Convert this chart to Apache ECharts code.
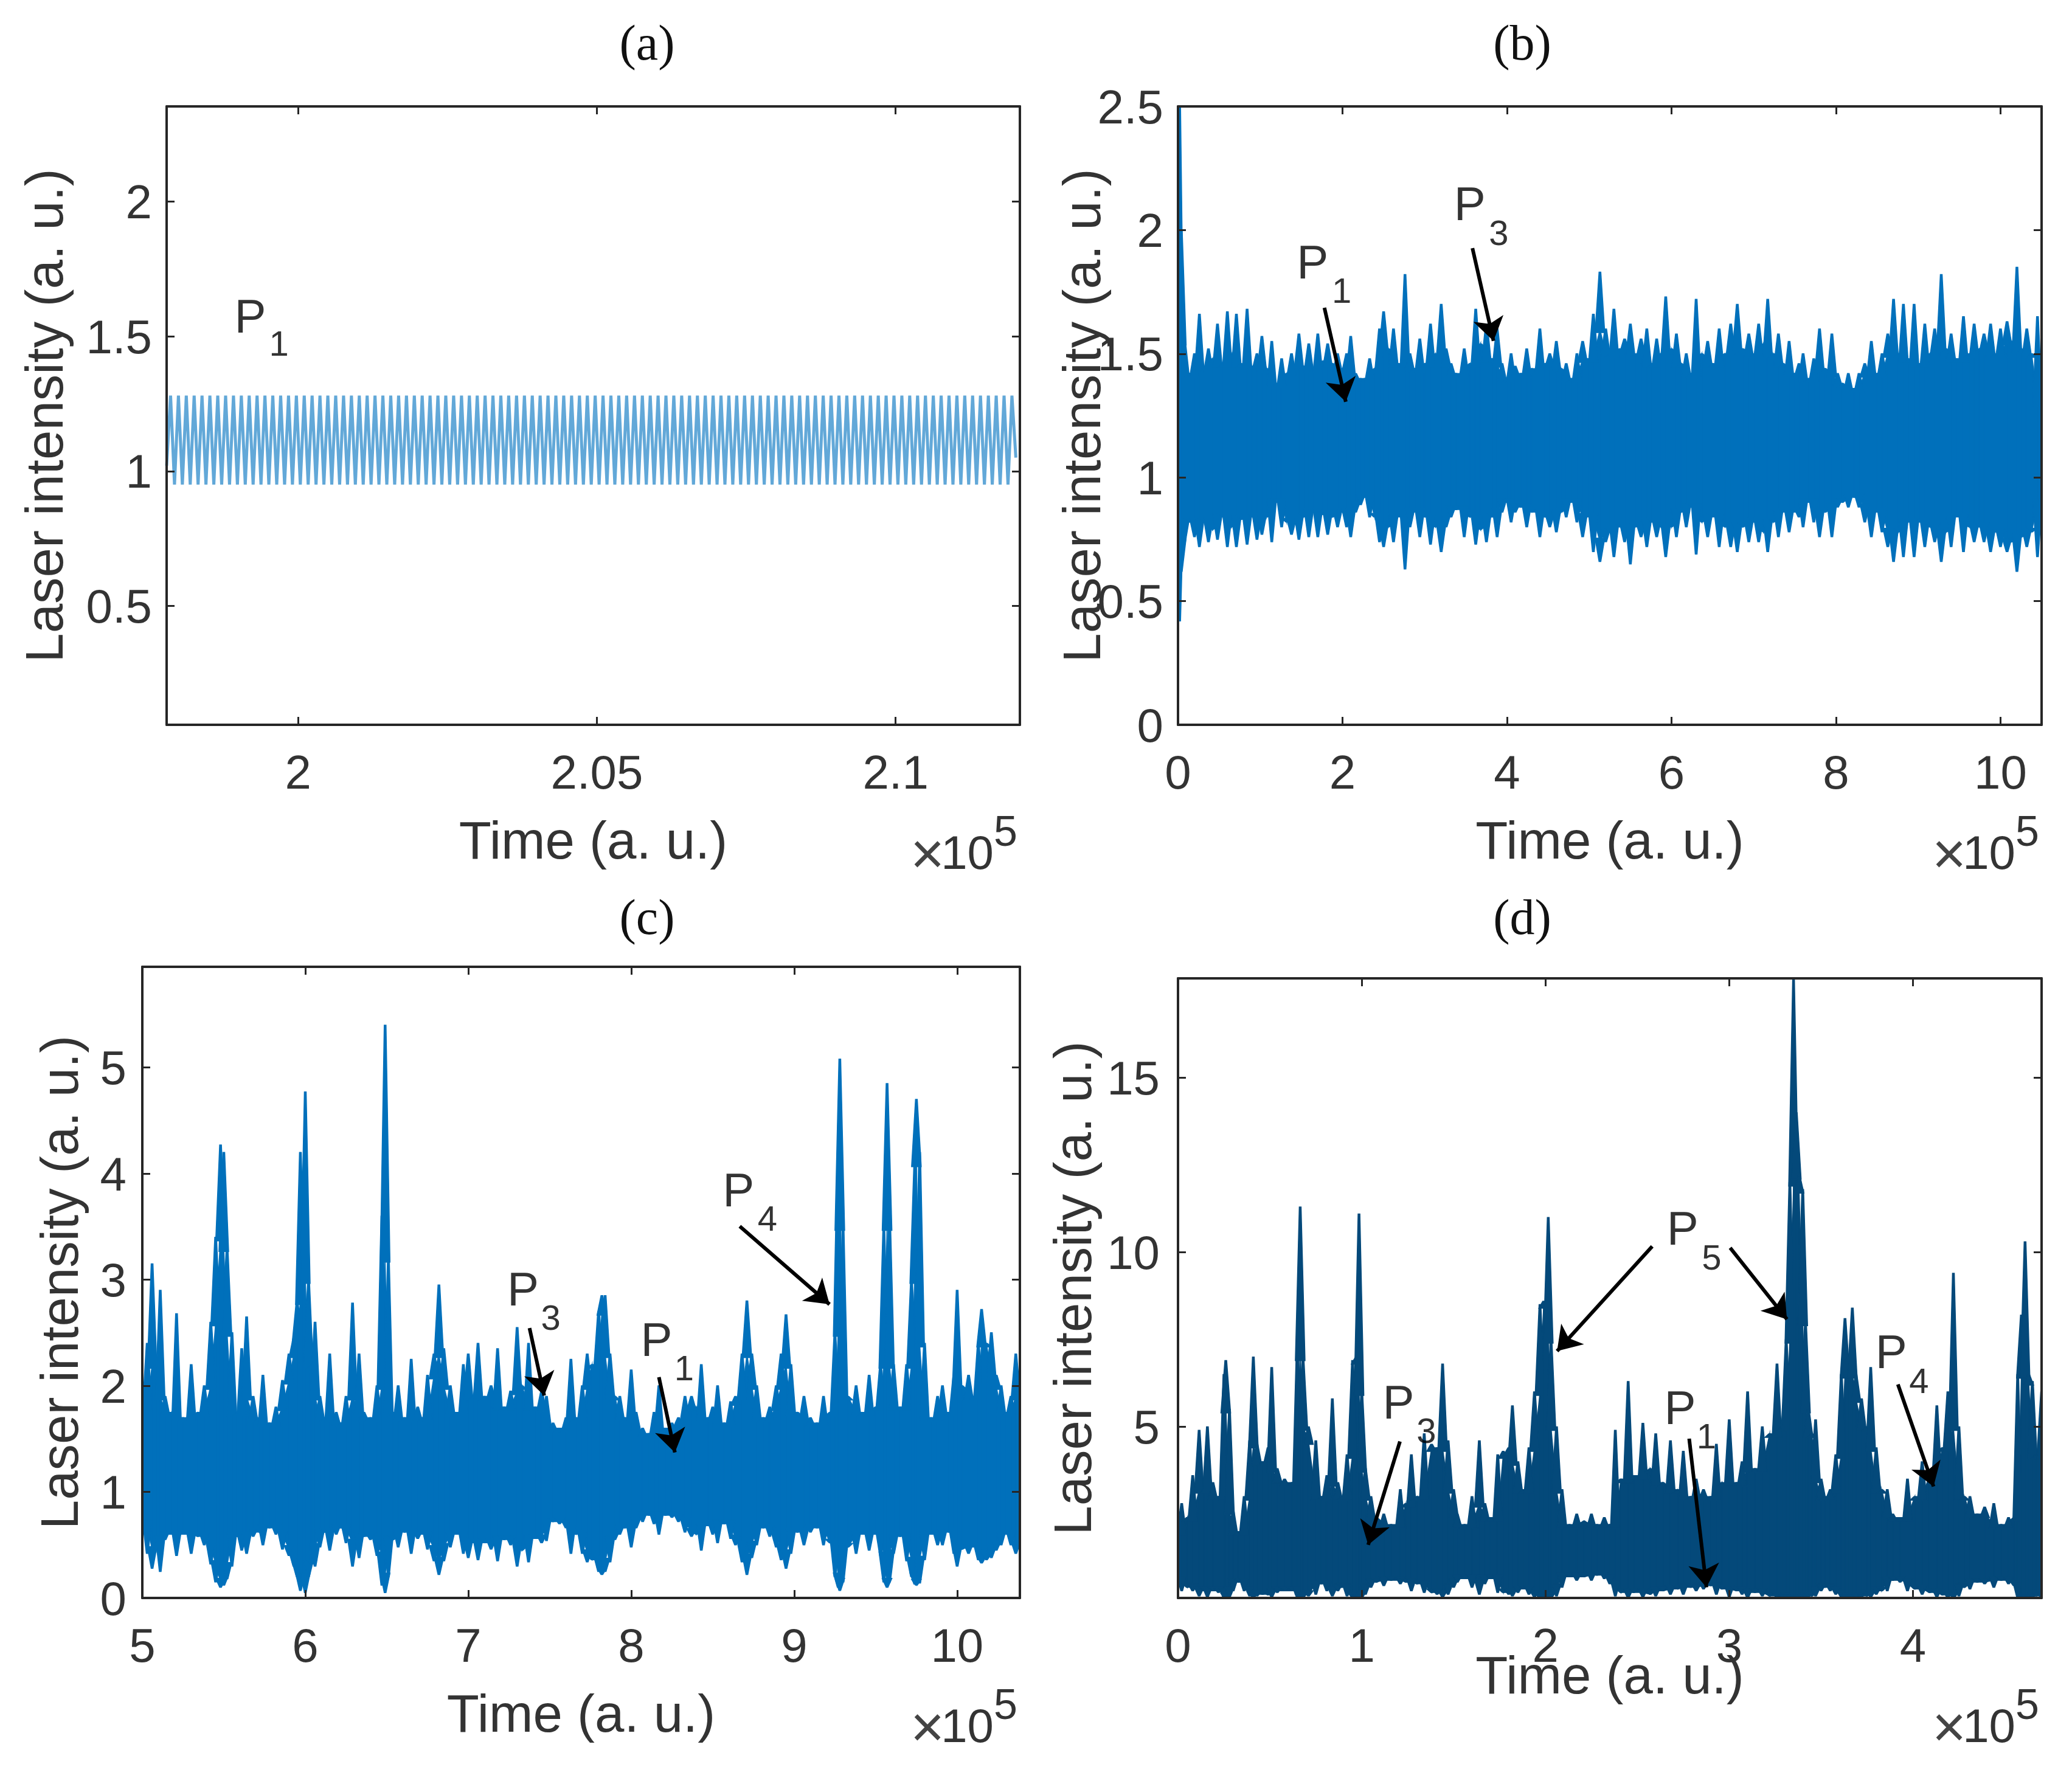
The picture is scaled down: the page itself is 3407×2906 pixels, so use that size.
<!DOCTYPE html>
<html><head><meta charset="utf-8">
<script src="https://cdn.jsdelivr.net/npm/echarts@6/dist/echarts.min.js"></script>
<style>html,body{margin:0;padding:0;background:#fff}#c{width:3407px;height:2906px}</style>
</head><body><div id="c"></div>
<script>
// Panel (a): one regular oscillation, alternating crest / trough
const startA = 1.978, stepA = 0.000658;
const valA = [
1.02,1.28,0.95,1.28,0.95,1.28,0.95,1.28,0.95,1.28,0.95,1.28,0.95,1.28,0.95,1.28,0.95,1.28,0.95,1.28,
0.95,1.28,0.95,1.28,0.95,1.28,0.95,1.28,0.95,1.28,0.95,1.28,0.95,1.28,0.95,1.28,0.95,1.28,0.95,1.28,
0.95,1.28,0.95,1.28,0.95,1.28,0.95,1.28,0.95,1.28,0.95,1.28,0.95,1.28,0.95,1.28,0.95,1.28,0.95,1.28,
0.95,1.28,0.95,1.28,0.95,1.28,0.95,1.28,0.95,1.28,0.95,1.28,0.95,1.28,0.95,1.28,0.95,1.28,0.95,1.28,
0.95,1.28,0.95,1.28,0.95,1.28,0.95,1.28,0.95,1.28,0.95,1.28,0.95,1.28,0.95,1.28,0.95,1.28,0.95,1.28,
0.95,1.28,0.95,1.28,0.95,1.28,0.95,1.28,0.95,1.28,0.95,1.28,0.95,1.28,0.95,1.28,0.95,1.28,0.95,1.28,
0.95,1.28,0.95,1.28,0.95,1.28,0.95,1.28,0.95,1.28,0.95,1.28,0.95,1.28,0.95,1.28,0.95,1.28,0.95,1.28,
0.95,1.28,0.95,1.28,0.95,1.28,0.95,1.28,0.95,1.28,0.95,1.28,0.95,1.28,0.95,1.28,0.95,1.28,0.95,1.28,
0.95,1.28,0.95,1.28,0.95,1.28,0.95,1.28,0.95,1.28,0.95,1.28,0.95,1.28,0.95,1.28,0.95,1.28,0.95,1.28,
0.95,1.28,0.95,1.28,0.95,1.28,0.95,1.28,0.95,1.28,0.95,1.28,0.95,1.28,0.95,1.28,0.95,1.28,0.95,1.28,
0.95,1.28,0.95,1.28,0.95,1.28,0.95,1.28,0.95,1.28,0.95,1.28,0.95,1.28,0.95,1.28,1.05];

// Panel (b): time and upper / lower envelope of the trace
const timeB = [
0,0.02,0.04,0.08,0.14,0.2,0.26,0.31,0.37,0.42,
0.48,0.54,0.6,0.65,0.71,0.77,0.84,0.9,0.96,1.02,
1.08,1.14,1.2,1.26,1.32,1.38,1.47,1.53,1.59,1.65,
1.7,1.76,1.82,1.88,1.94,2.0,2.05,2.1,2.16,2.22,
2.27,2.33,2.39,2.45,2.5,2.56,2.62,2.68,2.76,2.82,
2.88,2.94,3.0,3.07,3.13,3.2,3.26,3.32,3.38,3.48,
3.55,3.62,3.68,3.75,3.82,3.88,3.94,4.0,4.05,4.1,
4.17,4.24,4.3,4.4,4.46,4.52,4.6,4.66,4.72,4.78,
4.85,4.92,4.98,5.05,5.13,5.2,5.25,5.3,5.37,5.43,
5.5,5.56,5.63,5.7,5.76,5.82,5.87,5.93,6.0,6.06,
6.12,6.18,6.24,6.3,6.37,6.44,6.5,6.58,6.65,6.72,
6.8,6.87,6.94,7.0,7.06,7.12,7.17,7.24,7.3,7.36,
7.43,7.5,7.55,7.6,7.67,7.73,7.8,7.87,7.95,8.02,
8.08,8.15,8.22,8.28,8.35,8.43,8.5,8.56,8.63,8.7,
8.76,8.82,8.88,8.95,9.02,9.08,9.14,9.2,9.28,9.34,
9.4,9.47,9.55,9.62,9.68,9.74,9.8,9.88,9.94,10.0,
10.08,10.14,10.2,10.26,10.32,10.38,10.45,10.5];
const highB = [
1.2,2.5,2.0,1.55,1.42,1.5,1.66,1.44,1.52,1.48,
1.62,1.46,1.67,1.5,1.66,1.46,1.68,1.45,1.5,1.57,
1.44,1.55,1.38,1.48,1.42,1.5,1.58,1.45,1.54,1.44,
1.58,1.47,1.54,1.46,1.5,1.44,1.5,1.57,1.42,1.4,
1.4,1.48,1.44,1.6,1.67,1.52,1.6,1.46,1.82,1.5,
1.44,1.56,1.46,1.62,1.5,1.7,1.52,1.46,1.42,1.52,
1.46,1.68,1.54,1.62,1.48,1.6,1.46,1.4,1.5,1.45,
1.42,1.52,1.44,1.6,1.46,1.5,1.55,1.44,1.46,1.4,
1.5,1.55,1.48,1.66,1.83,1.6,1.5,1.68,1.52,1.56,
1.62,1.5,1.56,1.6,1.46,1.56,1.5,1.73,1.52,1.58,
1.46,1.5,1.42,1.72,1.5,1.55,1.46,1.6,1.5,1.62,
1.7,1.52,1.58,1.5,1.62,1.54,1.72,1.5,1.58,1.46,
1.55,1.42,1.46,1.5,1.4,1.48,1.6,1.44,1.58,1.42,
1.38,1.42,1.36,1.42,1.46,1.55,1.42,1.5,1.58,1.72,
1.5,1.7,1.48,1.7,1.46,1.62,1.5,1.6,1.82,1.52,
1.58,1.48,1.65,1.5,1.62,1.52,1.58,1.62,1.5,1.6,
1.63,1.55,1.85,1.52,1.6,1.5,1.65,1.3];
const lowB = [
1.0,0.42,0.62,0.74,0.82,0.76,0.72,0.82,0.74,0.79,
0.75,0.84,0.72,0.8,0.72,0.83,0.73,0.84,0.75,0.77,
0.84,0.74,0.9,0.8,0.82,0.77,0.75,0.84,0.76,0.86,
0.76,0.85,0.77,0.84,0.8,0.86,0.8,0.76,0.86,0.89,
0.92,0.84,0.84,0.74,0.72,0.8,0.74,0.84,0.63,0.8,
0.86,0.76,0.84,0.73,0.8,0.7,0.8,0.84,0.87,0.76,
0.84,0.73,0.79,0.74,0.84,0.76,0.86,0.9,0.82,0.86,
0.88,0.8,0.86,0.76,0.84,0.8,0.78,0.86,0.84,0.9,
0.82,0.76,0.84,0.7,0.66,0.74,0.78,0.68,0.8,0.74,
0.65,0.8,0.76,0.72,0.82,0.76,0.8,0.68,0.8,0.76,
0.86,0.8,0.88,0.69,0.82,0.76,0.84,0.72,0.8,0.72,
0.7,0.8,0.74,0.82,0.74,0.78,0.7,0.82,0.76,0.86,
0.78,0.86,0.84,0.8,0.9,0.82,0.76,0.86,0.76,0.88,
0.9,0.88,0.92,0.88,0.82,0.76,0.86,0.78,0.72,0.66,
0.78,0.68,0.82,0.68,0.82,0.72,0.8,0.74,0.66,0.78,
0.72,0.84,0.7,0.8,0.74,0.8,0.74,0.7,0.78,0.72,
0.7,0.74,0.62,0.76,0.72,0.78,0.68,0.9];

// Panel (c)
const timeC = [
5,5.03,5.06,5.09,5.11,5.14,5.18,5.21,5.25,5.3,
5.34,5.38,5.42,5.45,5.48,5.5,5.52,5.55,5.58,5.61,
5.64,5.68,5.72,5.74,5.78,5.82,5.86,5.9,5.93,5.95,
5.97,5.985,6.0,6.02,6.04,6.06,6.09,6.12,6.15,6.19,
6.22,6.25,6.29,6.33,6.36,6.4,6.44,6.47,6.49,6.51,
6.54,6.57,6.61,6.65,6.69,6.72,6.75,6.79,6.82,6.85,
6.89,6.93,6.97,7.0,7.03,7.06,7.1,7.14,7.18,7.22,
7.26,7.3,7.33,7.37,7.41,7.45,7.48,7.52,7.56,7.6,
7.63,7.66,7.7,7.73,7.76,7.8,7.82,7.84,7.87,7.9,
7.93,7.96,8.0,8.03,8.07,8.11,8.14,8.17,8.21,8.25,
8.29,8.33,8.37,8.4,8.43,8.47,8.5,8.53,8.57,8.61,
8.64,8.68,8.71,8.74,8.77,8.81,8.85,8.89,8.92,8.95,
8.98,9.02,9.06,9.1,9.14,9.18,9.22,9.25,9.27,9.28,
9.3,9.33,9.38,9.42,9.46,9.5,9.53,9.55,9.57,9.585,
9.61,9.65,9.69,9.72,9.74,9.75,9.77,9.8,9.84,9.88,
9.91,9.95,9.98,10.0,10.03,10.07,10.1,10.13,10.15,10.18,
10.21,10.24,10.27,10.3,10.33,10.36,10.385];
const highC = [
1.8,2.4,3.15,2.2,2.9,1.9,1.75,2.68,1.7,2.2,
1.75,2.0,2.6,3.4,4.27,4.2,3.3,2.5,1.75,2.35,
2.65,1.9,1.7,2.1,1.65,1.8,2.05,2.3,2.45,2.8,
4.2,3.3,4.77,3.0,2.2,2.6,1.9,1.7,2.3,1.75,
1.65,1.9,2.78,2.3,1.75,1.7,2.0,3.6,5.4,3.2,
1.75,2.0,1.7,2.25,1.8,1.7,2.1,2.3,2.95,2.35,
2.0,1.75,2.2,2.3,1.9,2.4,1.9,2.0,2.35,1.8,
1.95,2.55,2.0,2.4,1.8,1.95,1.9,1.65,1.6,1.7,
2.25,1.7,2.0,2.3,2.2,2.7,2.85,2.85,2.3,1.9,
1.9,1.7,2.15,1.75,1.6,1.55,1.75,2.0,1.6,1.65,
1.7,1.9,1.9,1.8,2.2,1.7,1.8,2.0,1.65,1.85,
1.9,2.3,2.8,2.3,2.0,1.7,1.8,2.0,2.3,2.67,
2.2,1.75,1.9,1.7,1.65,1.9,1.75,2.5,4.2,5.08,
3.5,1.9,2.0,1.75,2.1,1.8,2.2,3.5,4.85,3.6,
2.2,1.8,2.2,3.0,4.1,4.7,4.2,2.4,1.7,1.9,
2.0,1.75,2.1,2.9,2.0,2.1,1.9,2.4,2.72,2.4,
2.5,2.1,2.0,1.75,1.9,2.3,2.1];
const lowC = [
0.7,0.42,0.28,0.45,0.25,0.55,0.6,0.4,0.6,0.42,
0.58,0.5,0.32,0.15,0.1,0.12,0.18,0.3,0.58,0.45,
0.42,0.58,0.62,0.5,0.66,0.6,0.46,0.4,0.3,0.2,
0.07,0.15,0.05,0.2,0.32,0.3,0.48,0.62,0.45,0.6,
0.66,0.52,0.3,0.38,0.58,0.55,0.4,0.12,0.05,0.2,
0.55,0.48,0.62,0.42,0.56,0.6,0.46,0.35,0.22,0.35,
0.48,0.6,0.42,0.38,0.52,0.36,0.52,0.46,0.35,0.55,
0.5,0.3,0.45,0.34,0.56,0.52,0.54,0.72,0.7,0.66,
0.42,0.6,0.42,0.34,0.36,0.25,0.22,0.25,0.34,0.55,
0.6,0.66,0.48,0.66,0.72,0.78,0.7,0.6,0.78,0.76,
0.72,0.62,0.58,0.6,0.45,0.68,0.6,0.52,0.7,0.56,
0.5,0.34,0.22,0.38,0.5,0.66,0.58,0.48,0.36,0.28,
0.42,0.62,0.5,0.62,0.66,0.5,0.52,0.2,0.1,0.07,
0.15,0.48,0.42,0.6,0.45,0.6,0.4,0.15,0.1,0.15,
0.42,0.58,0.35,0.2,0.13,0.12,0.14,0.36,0.6,0.5,
0.5,0.62,0.42,0.3,0.46,0.42,0.48,0.36,0.33,0.36,
0.38,0.45,0.5,0.6,0.5,0.42,0.48];

// Panel (d)
const timeD = [
0,0.02,0.05,0.08,0.115,0.14,0.16,0.19,0.22,0.25,
0.26,0.28,0.3,0.33,0.36,0.39,0.41,0.43,0.46,0.49,
0.51,0.54,0.58,0.62,0.65,0.665,0.68,0.71,0.75,0.78,
0.81,0.84,0.87,0.89,0.92,0.95,0.97,0.985,1.0,1.02,
1.05,1.08,1.12,1.16,1.21,1.24,1.27,1.3,1.34,1.38,
1.41,1.44,1.47,1.5,1.52,1.56,1.6,1.64,1.67,1.7,
1.74,1.77,1.8,1.82,1.85,1.88,1.91,1.94,1.97,1.99,
2.015,2.03,2.06,2.09,2.13,2.17,2.21,2.25,2.28,2.32,
2.35,2.38,2.41,2.45,2.48,2.53,2.57,2.6,2.64,2.68,
2.72,2.75,2.79,2.82,2.86,2.9,2.93,2.96,3.0,3.04,
3.07,3.1,3.14,3.18,3.22,3.26,3.29,3.31,3.33,3.35,
3.365,3.38,3.4,3.415,3.43,3.45,3.47,3.5,3.52,3.55,
3.58,3.61,3.63,3.65,3.67,3.69,3.72,3.75,3.77,3.8,
3.83,3.86,3.89,3.93,3.97,4.01,4.05,4.09,4.13,4.16,
4.19,4.22,4.25,4.28,4.31,4.35,4.39,4.44,4.48,4.52,
4.55,4.57,4.59,4.61,4.63,4.65,4.67,4.7];
const highD = [
2.0,2.8,2.4,3.6,4.9,3.2,5.0,3.4,3.0,6.5,
6.9,5.5,2.6,2.0,3.0,4.6,7.0,4.5,4.0,4.4,
6.7,3.8,3.5,3.4,7.5,11.3,7.0,5.0,4.6,3.0,
3.6,5.8,3.4,3.0,4.2,6.9,7.0,11.1,6.0,3.8,
3.0,2.4,2.5,2.2,3.2,2.8,4.2,3.0,4.8,4.5,
4.4,6.8,4.6,3.2,2.5,2.2,3.0,4.6,2.8,2.4,
4.2,4.3,4.4,5.6,4.0,3.2,4.4,6.0,8.5,8.6,
11.0,7.5,5.0,3.2,2.2,2.5,2.3,2.5,2.2,2.4,
2.2,4.9,3.5,6.3,3.6,5.1,3.8,4.8,3.4,4.6,
3.2,4.3,3.0,3.5,3.2,3.0,4.5,3.4,5.2,3.4,
4.0,6.0,3.8,5.0,4.8,6.8,5.0,7.5,12.0,17.8,
14.0,12.2,11.8,8.0,5.5,4.8,5.2,3.5,3.0,3.2,
4.2,6.5,8.1,7.0,8.4,6.5,5.8,5.0,6.7,4.4,
3.2,3.2,2.5,2.4,3.5,3.0,4.0,3.6,5.6,4.4,
6.0,9.4,5.0,3.0,3.0,2.5,2.7,2.8,2.2,2.4,
2.4,6.5,8.2,10.3,6.5,6.3,4.2,6.0];
const lowD = [
0.6,0.3,0.4,0.3,0.15,0.3,0.12,0.3,0.25,0.1,
0.1,0.12,0.3,0.55,0.3,0.15,0.1,0.15,0.2,0.18,
0.12,0.25,0.3,0.3,0.1,0.08,0.1,0.15,0.2,0.5,
0.3,0.15,0.3,0.4,0.15,0.1,0.08,0.08,0.1,0.2,
0.4,0.55,0.45,0.6,0.5,0.55,0.3,0.5,0.25,0.25,
0.2,0.12,0.2,0.4,0.55,0.65,0.4,0.2,0.5,0.65,
0.25,0.25,0.2,0.15,0.25,0.35,0.2,0.12,0.08,0.08,
0.08,0.1,0.15,0.4,0.7,0.6,0.7,0.6,0.75,0.65,
0.5,0.15,0.25,0.1,0.25,0.12,0.2,0.15,0.3,0.2,
0.35,0.2,0.4,0.3,0.35,0.45,0.2,0.35,0.12,0.3,
0.2,0.1,0.25,0.15,0.15,0.1,0.12,0.1,0.08,0.08,
0.08,0.08,0.08,0.1,0.12,0.15,0.15,0.3,0.4,0.3,
0.2,0.12,0.08,0.1,0.08,0.1,0.12,0.15,0.12,0.2,
0.3,0.3,0.6,0.55,0.3,0.35,0.2,0.25,0.12,0.18,
0.1,0.08,0.15,0.4,0.35,0.55,0.5,0.4,0.6,0.5,
0.45,0.1,0.08,0.08,0.1,0.1,0.15,0.1];

// Tick values
const ticksXA = [2,2.05,2.1], ticksYA = [0.5,1,1.5,2];
const ticksXB = [0,2,4,6,8,10], ticksYB = [0,0.5,1,1.5,2,2.5];
const ticksXC = [5,6,7,8,9,10], ticksYC = [0,1,2,3,4,5];
const ticksXD = [0,1,2,3,4], ticksYD = [5,10,15];

// Annotations, in data coordinates: letter, subscript, arrows [fromX, fromY, toX, toY]
const lettersA = [[1.992,1.562]], subsA = [[1.9968,1.464,'1']], arrowsA = [];
const lettersB = [[1.637,1.858],[3.547,2.093]], subsB = [[1.99,1.745,'1'],[3.90,1.98,'3']];
const arrowsB = [[1.78,1.686,2.04,1.306],[3.58,1.927,3.836,1.552]];
const lettersC = [[7.336,2.88],[8.155,2.406],[8.658,3.815]], subsC = [[7.506,2.618,'3'],[8.325,2.145,'1'],[8.836,3.554,'4']];
const arrowsC = [[7.376,2.544,7.466,1.908],[8.17,2.082,8.268,1.372],[8.666,3.504,9.217,2.768]];
const lettersD = [[1.2,5.608],[2.746,10.59],[2.732,5.456],[3.882,7.05]], subsD = [[1.352,4.81,'3'],[2.904,9.79,'5'],[2.876,4.66,'1'],[4.033,6.254,'4']];
const arrowsD = [[1.208,4.58,1.035,1.616],[2.581,10.17,2.063,7.17],[3.005,10.13,3.314,8.08],[2.782,4.66,2.876,0.4],[3.918,6.216,4.112,3.29]];

const SANS = '"Liberation Sans", Arial, sans-serif', SERIF = '"Liberation Serif", serif';
const INK = '#333333', LINE = '#262626';

const panels = [
 {title:'(a)',titleX:1059,titleY:30,grid:[274,175,1403,1017],x:[1.978,2.1208],y:[0.059,2.353],tx:ticksXA,ty:ticksYA,
  ygap:151,xgap:153,lmargin:24,letters:lettersA,subs:subsA,arrows:arrowsA},
 {title:'(b)',titleX:2498,titleY:30,grid:[1937,175,1420,1017],x:[0,10.5],y:[0,2.5],tx:ticksXB,ty:ticksYB,
  ygap:108,xgap:153,lmargin:24,time:timeB,hi:highB,lo:lowB,fill:'#0070BB',letters:lettersB,subs:subsB,arrows:arrowsB},
 {title:'(c)',titleX:1059,titleY:1468,grid:[234,1590,1443,1038],x:[5,10.385],y:[0,5.95],tx:ticksXC,ty:ticksYC,
  ygap:86,xgap:153,lmargin:26,time:timeC,hi:highC,lo:lowC,fill:'#0070BB',letters:lettersC,subs:subsC,arrows:arrowsC},
 {title:'(d)',titleX:2498,titleY:1468,grid:[1937,1609,1420,1019],x:[0,4.7],y:[0.095,17.85],tx:ticksXD,ty:ticksYD,
  ygap:123,xgap:90,lmargin:30,time:timeD,hi:highD,lo:lowD,fill:'#04497A',letters:lettersD,subs:subsD,arrows:arrowsD}
];

// Each sample: a solid body between neighbours' envelope, and a narrow needle up and down to its own extreme.
const NEEDLE = 8, BLADE = 1.5, OVERLAP = 6;
function traceItem(fill){
  return function(params,api){
    const c=(x,y)=>api.coord([x,y]);
    const t=api.value(0),hi=api.value(1),lo=api.value(2),bh=api.value(3),bl=api.value(4),tn=api.value(5),bhn=api.value(6),bln=api.value(7);
    const top=c(t,hi),bot=c(t,lo),bT=c(t,bh),bB=c(t,bl);
    const X=top[0];
    const st={fill:fill,stroke:fill,lineWidth:1.5};
    return {type:'group',children:[
      {type:'polygon',shape:{points:[bT,c(tn,bhn),c(tn,bln),bB]},style:st},
      {type:'polygon',shape:{points:[[X-NEEDLE,bT[1]+OVERLAP],[X-BLADE,top[1]],[X+BLADE,top[1]],[X+NEEDLE,bT[1]+OVERLAP]]},style:st},
      {type:'polygon',shape:{points:[[X-NEEDLE,bB[1]-OVERLAP],[X-BLADE,bot[1]],[X+BLADE,bot[1]],[X+NEEDLE,bB[1]-OVERLAP]]},style:st}
    ]};
  };
}

const grid=[],xAxis=[],yAxis=[],series=[],title=[],graphic=[];
panels.forEach((p,i)=>{
  const [L,T,W,H]=p.grid;
  grid.push({left:L,top:T,width:W,height:H,containLabel:false});
  title.push({text:p.title,left:p.titleX,top:p.titleY,textAlign:'center',
    textStyle:{fontFamily:SERIF,fontSize:82,fontWeight:'normal',color:'#111'}});
  const line={show:true,onZero:false,lineStyle:{color:LINE,width:4}};
  const tick=v=>({show:true,inside:true,length:13,customValues:v,lineStyle:{color:LINE,width:3}});
  xAxis.push({type:'value',gridIndex:i,position:'bottom',min:p.x[0],max:p.x[1],z:10,
    axisLine:line,splitLine:{show:false},axisTick:tick(p.tx),
    axisLabel:{show:true,customValues:p.tx,margin:44,fontFamily:SANS,fontSize:78,color:INK},
    name:'Time (a. u.)',nameLocation:'middle',nameGap:p.xgap,nameMoveOverlap:false,
    nameTextStyle:{fontFamily:SANS,fontSize:87,color:INK}});
  xAxis.push({type:'value',gridIndex:i,position:'top',min:p.x[0],max:p.x[1],z:10,
    axisLine:line,splitLine:{show:false},axisLabel:{show:false},axisTick:tick(p.tx)});
  yAxis.push({type:'value',gridIndex:i,position:'left',min:p.y[0],max:p.y[1],z:10,
    axisLine:line,splitLine:{show:false},axisTick:tick(p.ty),
    axisLabel:{show:true,customValues:p.ty,margin:p.lmargin,formatter:v=>'{a|'+v+'}',
      rich:{a:{fontFamily:SANS,fontSize:78,color:INK,padding:[12,0,0,0]}},fontFamily:SANS,fontSize:78,color:INK},
    name:'Laser intensity (a. u.)',nameLocation:'middle',nameGap:p.ygap,nameMoveOverlap:false,
    nameTextStyle:{fontFamily:SANS,fontSize:87,color:INK}});
  yAxis.push({type:'value',gridIndex:i,position:'right',min:p.y[0],max:p.y[1],z:10,
    axisLine:line,splitLine:{show:false},axisLabel:{show:false},axisTick:tick(p.ty)});
  const ax={xAxisIndex:2*i,yAxisIndex:2*i};
  if(p.time){
    const n=p.time.length;
    const bodyHi=p.hi.map((v,k)=>Math.min(v,p.hi[Math.max(k-1,0)],p.hi[Math.min(k+1,n-1)]));
    const bodyLo=p.lo.map((v,k)=>Math.max(v,p.lo[Math.max(k-1,0)],p.lo[Math.min(k+1,n-1)]));
    series.push({...ax,type:'custom',clip:true,silent:true,renderItem:traceItem(p.fill),
      encode:{x:[0,5],y:[1,2]},
      data:p.time.map((t,k)=>{const m=Math.min(k+1,n-1);return [t,p.hi[k],p.lo[k],bodyHi[k],bodyLo[k],p.time[m],bodyHi[m],bodyLo[m]];})});
  } else {
    series.push({...ax,type:'line',showSymbol:false,silent:true,
      lineStyle:{color:'#2E8BCB',width:5,opacity:0.75,join:'miter'},
      data:valA.map((v,k)=>[startA+k*stepA,v])});
  }
  series.push({...ax,type:'scatter',symbolSize:1,itemStyle:{color:'transparent'},silent:true,z:5,
    label:{show:true,position:'inside',formatter:'P',fontFamily:SANS,fontSize:78,color:'#000'},
    markLine:{silent:true,symbol:['none','arrow'],symbolSize:38,animation:false,
      lineStyle:{color:'#000',width:6,type:'solid'},label:{show:false},
      data:p.arrows.map(a=>[{coord:[a[0],a[1]]},{coord:[a[2],a[3]]}])},
    data:p.letters});
  series.push({...ax,type:'scatter',symbolSize:1,itemStyle:{color:'transparent'},silent:true,z:5,
    label:{show:true,position:'inside',formatter:q=>q.data[2],fontFamily:SANS,fontSize:58,color:'#000'},
    data:p.subs});
  // axis exponent
  const R=L+W, baseY=T+H, yOff=215;
  graphic.push({type:'text',style:{text:'×',x:R-152,y:baseY+yOff+4,align:'center',verticalAlign:'middle',
    fontFamily:SANS,fontSize:96,fill:'#444'}});
  graphic.push({type:'text',style:{text:'10',x:R-43,y:baseY+yOff,align:'right',verticalAlign:'middle',
    fontFamily:SANS,fontSize:78,fill:INK}});
  graphic.push({type:'text',style:{text:'5',x:R-43,y:baseY+yOff-35,align:'left',verticalAlign:'middle',
    fontFamily:SANS,fontSize:70,fill:INK}});
});

const chart=echarts.init(document.getElementById('c'),null,{renderer:'canvas',width:3407,height:2906});
chart.setOption({animation:false,backgroundColor:'#fff',title,grid,xAxis,yAxis,series,graphic,tooltip:{show:false},legend:{show:false}});
</script></body></html>
